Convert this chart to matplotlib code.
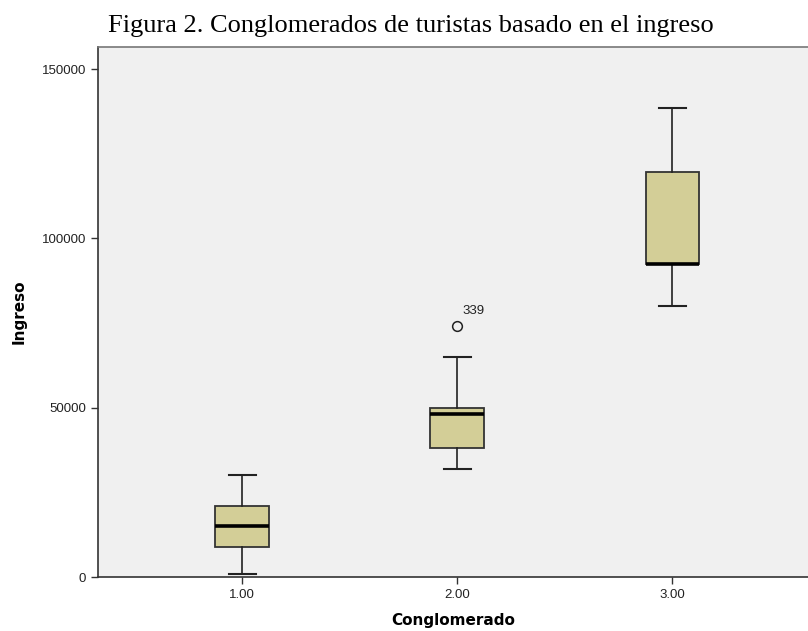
import matplotlib.pyplot as plt

# values
grupos = [1, 2, 3]
etiquetas = ['1.00', '2.00', '3.00']
q1 = [9000, 38000, 92500]
mediana = [15000, 48000, 92500]
q3 = [21000, 50000, 119500]
bigote_inf = [1000, 32000, 80000]
bigote_sup = [30000, 65000, 138500]
atipicos = [[], [74000], []]
etiq_atipico = '339'

stats = []
for i in range(len(grupos)):
    stats.append({'med': mediana[i], 'q1': q1[i], 'q3': q3[i],
                  'whislo': bigote_inf[i], 'whishi': bigote_sup[i],
                  'fliers': atipicos[i]})

fig = plt.figure(figsize=(8.08, 6.31), dpi=100)
ax = fig.add_axes([98/808, 54/631, 710/808, 530/631])
ax.set_facecolor('#f0f0f0')

ax.bxp(stats, positions=grupos, widths=0.25, patch_artist=True,
       boxprops=dict(facecolor='#d3ce97', edgecolor='#333333', linewidth=1.3),
       medianprops=dict(color='black', linewidth=2.6),
       whiskerprops=dict(color='#222222', linewidth=1.2),
       capprops=dict(color='#222222', linewidth=1.5),
       capwidths=0.125,
       flierprops=dict(marker='o', markersize=7, markerfacecolor='none',
                       markeredgecolor='#222222', markeredgewidth=1.1))

ax.text(grupos[1] + 0.023, atipicos[1][0] + 2700, etiq_atipico,
        fontsize=9.5, family='Liberation Sans', va='bottom', ha='left',
        color='#222222')

ax.set_xlim(0.33, 3.63)
ax.set_ylim(0, 156500)
ax.set_xticks(grupos)
ax.set_xticklabels(etiquetas)
ax.set_yticks([0, 50000, 100000, 150000])
ax.set_yticklabels(['0', '50000', '100000', '150000'])
ax.tick_params(direction='out', length=5, width=1, color='#333333',
               labelsize=9.5, labelcolor='#222222')
for lab in ax.get_xticklabels() + ax.get_yticklabels():
    lab.set_family('Liberation Sans')

ax.spines['right'].set_visible(False)
for s in ['left', 'bottom']:
    ax.spines[s].set_color('#333333')
    ax.spines[s].set_linewidth(1.2)
ax.spines['top'].set_color('#777777')
ax.spines['top'].set_linewidth(1.2)

ax.set_xlabel('Conglomerado', fontsize=11, fontweight='bold',
              family='DejaVu Sans', labelpad=9)
ax.set_ylabel('Ingreso', fontsize=11, fontweight='bold',
              family='DejaVu Sans', labelpad=11)

fig.text(108/808, 1 - 32/631, 'Figura 2. Conglomerados de turistas basado en el ingreso',
         fontsize=19, family='Liberation Serif', va='baseline', ha='left')

fig.savefig('out.png', dpi=100)
